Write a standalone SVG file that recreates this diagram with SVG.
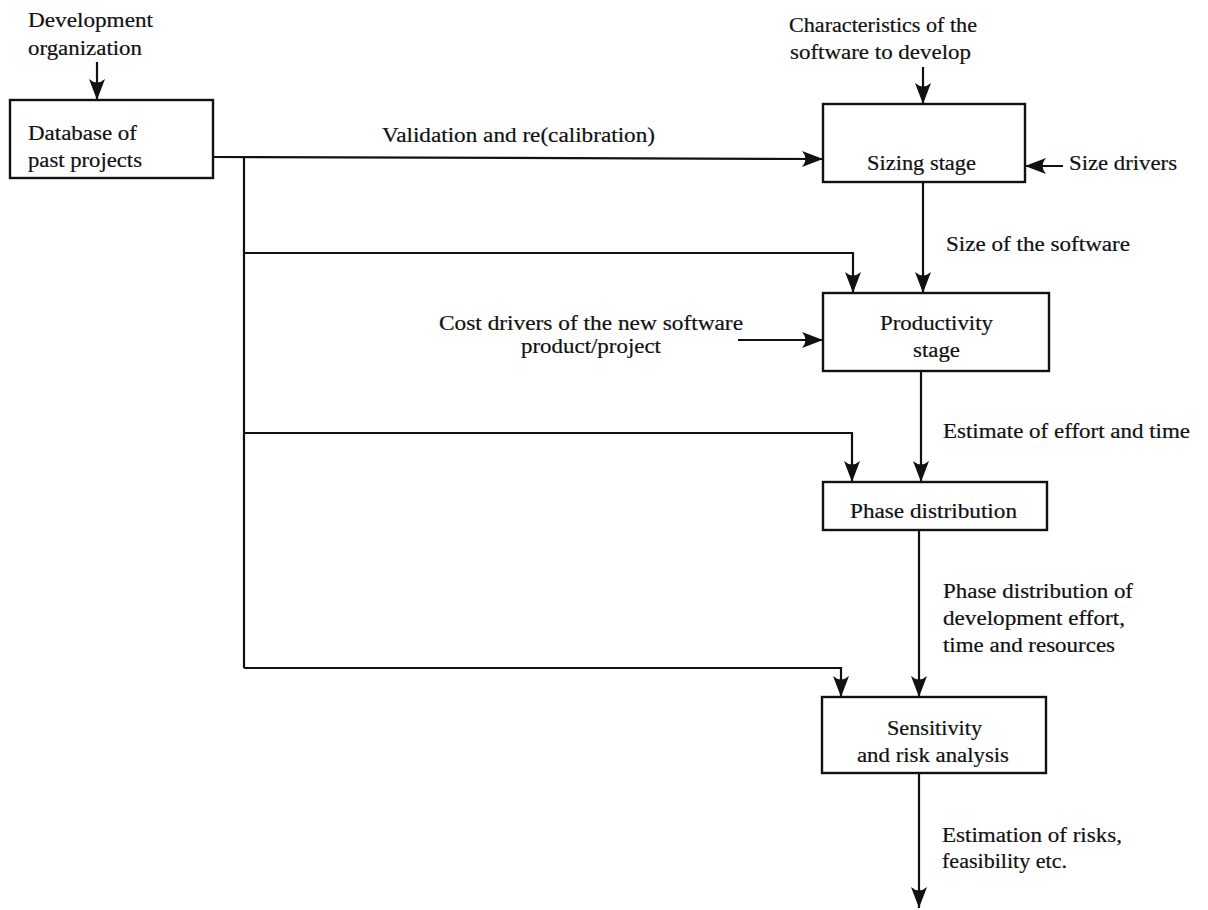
<svg xmlns="http://www.w3.org/2000/svg" width="1208" height="910" viewBox="0 0 1208 910">
  <style>
    .box { fill: #fff; stroke: #111; stroke-width: 2.4; }
    .wire { fill: none; stroke: #111; stroke-width: 2.2; }
    .arr { marker-end: url(#head); }
    text { font-family: "Liberation Serif", "Times New Roman", serif; font-size: 20px; fill: #111; stroke: #111; stroke-width: 0.2; }
  </style>
  <defs>
    <marker id="head" markerUnits="userSpaceOnUse" markerWidth="24" markerHeight="20" refX="22" refY="9" orient="auto" viewBox="0 0 24 20">
      <path d="M22,9 L1,1 Q8,9 1,17 Z" fill="#111"/>
    </marker>
  </defs>
  <rect width="1208" height="910" fill="#fff"/>

  <!-- connectors -->
  <g id="connectors">
    <path class="wire arr" d="M97,62 V100"/>
    <path class="wire arr" d="M923,67 V104"/>
    <path class="wire arr" d="M213,157 L823,159"/>
    <path class="wire arr" d="M1063,166 H1025"/>
    <path class="wire arr" d="M923,183 V293"/>
    <path class="wire" d="M244,157 V668"/>
    <path class="wire arr" d="M244,253 H853 V293"/>
    <path class="wire arr" d="M738,340 H823"/>
    <path class="wire arr" d="M921,371 V482"/>
    <path class="wire arr" d="M244,433 H852 V482"/>
    <path class="wire arr" d="M919,530 V697"/>
    <path class="wire arr" d="M244,668 H841 V697"/>
    <path class="wire arr" d="M919,773 V908"/>
  </g>

  <!-- free-standing inputs and outputs -->
  <g id="label-dev-org">
    <text x="28" y="27" textLength="125" lengthAdjust="spacingAndGlyphs">Development</text>
    <text x="28" y="55" textLength="114" lengthAdjust="spacingAndGlyphs">organization</text>
  </g>
  <g id="label-characteristics">
    <text x="789" y="32" textLength="188" lengthAdjust="spacingAndGlyphs">Characteristics of the</text>
    <text x="790" y="59" textLength="181" lengthAdjust="spacingAndGlyphs">software to develop</text>
  </g>
  <g id="label-validation">
    <text x="382" y="142" textLength="273" lengthAdjust="spacingAndGlyphs">Validation and re(calibration)</text>
  </g>
  <g id="label-size-drivers">
    <text x="1069" y="170" textLength="108" lengthAdjust="spacingAndGlyphs">Size drivers</text>
  </g>
  <g id="label-size-software">
    <text x="946" y="251" textLength="184" lengthAdjust="spacingAndGlyphs">Size of the software</text>
  </g>
  <g id="label-cost-drivers">
    <text x="439" y="330" textLength="304" lengthAdjust="spacingAndGlyphs">Cost drivers of the new software</text>
    <text x="521" y="353" textLength="140" lengthAdjust="spacingAndGlyphs">product/project</text>
  </g>
  <g id="label-estimate">
    <text x="943" y="438" textLength="247" lengthAdjust="spacingAndGlyphs">Estimate of effort and time</text>
  </g>
  <g id="label-phase-output">
    <text x="943" y="598" textLength="190" lengthAdjust="spacingAndGlyphs">Phase distribution of</text>
    <text x="943" y="625" textLength="182" lengthAdjust="spacingAndGlyphs">development effort,</text>
    <text x="943" y="652" textLength="172" lengthAdjust="spacingAndGlyphs">time and resources</text>
  </g>
  <g id="label-risk-output">
    <text x="942" y="842" textLength="180" lengthAdjust="spacingAndGlyphs">Estimation of risks,</text>
    <text x="942" y="868" textLength="125" lengthAdjust="spacingAndGlyphs">feasibility etc.</text>
  </g>

  <!-- process nodes -->
  <g id="node-database">
    <rect class="box" x="10" y="100" width="203" height="78"/>
    <text x="28" y="140" textLength="109" lengthAdjust="spacingAndGlyphs">Database of</text>
    <text x="28" y="167" textLength="114" lengthAdjust="spacingAndGlyphs">past projects</text>
  </g>
  <g id="node-sizing">
    <rect class="box" x="823" y="104" width="202" height="78"/>
    <text x="867" y="170" textLength="109" lengthAdjust="spacingAndGlyphs">Sizing stage</text>
  </g>
  <g id="node-productivity">
    <rect class="box" x="823" y="293" width="226" height="78"/>
    <text x="880" y="330" textLength="113" lengthAdjust="spacingAndGlyphs">Productivity</text>
    <text x="913" y="357" textLength="47" lengthAdjust="spacingAndGlyphs">stage</text>
  </g>
  <g id="node-phase">
    <rect class="box" x="823" y="482" width="224" height="48"/>
    <text x="850" y="518" textLength="167" lengthAdjust="spacingAndGlyphs">Phase distribution</text>
  </g>
  <g id="node-sensitivity">
    <rect class="box" x="822" y="697" width="224" height="76"/>
    <text x="887" y="735" textLength="95" lengthAdjust="spacingAndGlyphs">Sensitivity</text>
    <text x="857" y="762" textLength="152" lengthAdjust="spacingAndGlyphs">and risk analysis</text>
  </g>
</svg>
